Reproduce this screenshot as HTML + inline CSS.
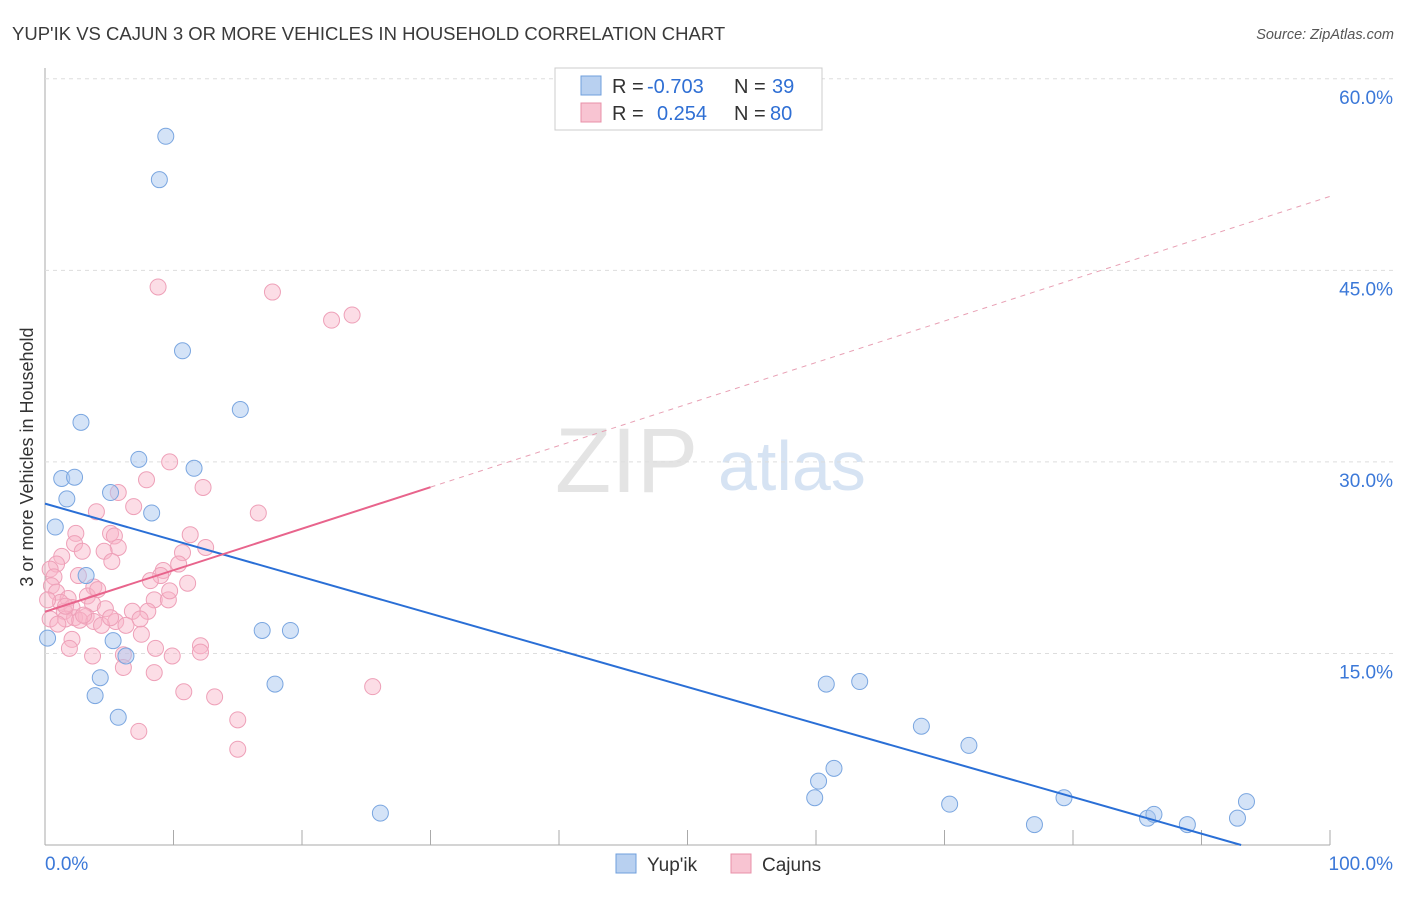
<!DOCTYPE html>
<html><head><meta charset="utf-8"><style>
body{margin:0;background:#fff;font-family:"Liberation Sans",sans-serif;}
svg text{font-family:"Liberation Sans",sans-serif;}
</style></head><body>
<svg id="c" width="1406" height="892">
<text x="12" y="40" font-size="18.5" fill="#3a3a3a">YUP'IK VS CAJUN 3 OR MORE VEHICLES IN HOUSEHOLD CORRELATION CHART</text>
<text x="1394" y="39" font-size="14.5" fill="#555" font-style="italic" text-anchor="end">Source: ZipAtlas.com</text>
<text x="33" y="457" font-size="18" fill="#333" text-anchor="middle" transform="rotate(-90 33 457)">3 or more Vehicles in Household</text>
<text x="555" y="492" font-size="92" fill="#e4e4e4" font-family="Liberation Serif">ZIP</text>
<text x="718" y="490" font-size="70" fill="#d6e3f3">atlas</text>
<g id="grid"></g><g id="marks"></g>
<g>
<rect x="555" y="68" width="267" height="62" fill="#fff" stroke="#ccc"/>
<rect x="581" y="76" width="20" height="19" fill="#b8d0f0" stroke="#6f9fdc"/>
<rect x="581" y="103" width="20" height="19" fill="#f8c4d2" stroke="#e890a8"/>
<text x="612" y="93" font-size="20" fill="#333">R =</text>
<text x="647" y="93" font-size="20" fill="#2f6fd4">-0.703</text>
<text x="734" y="93" font-size="20" fill="#333">N =</text>
<text x="772" y="93" font-size="20" fill="#2f6fd4">39</text>
<text x="612" y="120" font-size="20" fill="#333">R =</text>
<text x="657" y="120" font-size="20" fill="#2f6fd4">0.254</text>
<text x="734" y="120" font-size="20" fill="#333">N =</text>
<text x="770" y="120" font-size="20" fill="#2f6fd4">80</text>
</g>
<g>
<rect x="616" y="854" width="20" height="19" fill="#b8d0f0" stroke="#6f9fdc"/>
<text x="647" y="871" font-size="19" fill="#333">Yup'ik</text>
<rect x="731" y="854" width="20" height="19" fill="#f8c4d2" stroke="#e890a8"/>
<text x="762" y="871" font-size="19" fill="#333">Cajuns</text>
</g>
</svg>
<script>
const yTicks=[15,30,45,60];
const xTickLabels=["0.0%","100.0%"];
const blueX=[9.4,8.9,10.7,15.2,2.8,7.3,11.6,1.3,2.3,1.7,5.1,8.3,0.8,3.2,0.2,5.3,6.3,4.3,3.9,5.7,16.9,19.1,17.9,26.1,60.8,63.4,68.2,71.9,61.4,60.2,59.9,70.4,79.3,77.0,85.8,86.3,88.9,92.8,93.5];
const blueY=[55.5,52.1,38.7,34.1,33.1,30.2,29.5,28.7,28.8,27.1,27.6,26.0,24.9,21.1,16.2,16.0,14.8,13.1,11.7,10.0,16.8,16.8,12.6,2.5,12.6,12.8,9.3,7.8,6.0,5.0,3.7,3.2,3.7,1.6,2.1,2.4,1.6,2.1,3.4];
const pinkX=[8.8,17.7,22.3,23.9,9.7,7.9,12.3,5.7,16.6,4.0,6.9,5.1,5.4,2.4,11.3,12.5,5.7,2.3,1.3,4.6,2.9,5.2,10.7,10.4,9.2,0.9,0.4,0.7,2.6,9.0,8.2,11.1,0.5,3.8,0.9,3.3,1.8,1.2,8.5,9.6,3.7,2.1,4.7,1.5,6.8,8.0,2.3,3.2,1.6,2.7,3.8,5.5,4.4,7.4,6.3,7.5,12.1,8.6,2.1,1.9,12.1,3.7,6.1,9.9,6.1,8.5,10.8,13.2,25.5,15.0,7.3,15.0,0.4,1.0,3.0,5.1,0.2,9.7,1.6,4.1];
const pinkY=[43.7,43.3,41.1,41.5,30.0,28.6,28.0,27.6,26.0,26.1,26.5,24.4,24.2,24.4,24.3,23.3,23.3,23.6,22.6,23.0,23.0,22.2,22.9,22.0,21.5,22.0,21.6,21.0,21.1,21.1,20.7,20.5,20.3,20.2,19.8,19.5,19.3,19.0,19.2,19.2,18.9,18.6,18.5,18.3,18.3,18.3,17.8,17.9,17.7,17.6,17.5,17.5,17.2,17.7,17.2,16.5,15.6,15.4,16.1,15.4,15.1,14.8,14.9,14.8,13.9,13.5,12.0,11.6,12.4,9.8,8.9,7.5,17.7,17.3,18.0,17.8,19.2,19.9,18.7,20.0];
const X=v=>45+v*12.85, Y=v=>845-v*12.77;
const ns="http://www.w3.org/2000/svg";
const svg=document.getElementById('c'),grid=document.getElementById('grid'),marks=document.getElementById('marks');
function mk(t,a,p){const e=document.createElementNS(ns,t);for(const k in a)e.setAttribute(k,a[k]);p.appendChild(e);return e;}
let yl=mk('line',{x1:45,y1:68,x2:45,y2:845,stroke:'#aaa'},grid);


let xl=mk('line',{x1:45,y1:845,x2:1330,y2:845,stroke:'#aaa'},grid);


yTicks.forEach(t=>{
 let g=mk('line',{x1:45,y1:Y(t),x2:1394,y2:Y(t),stroke:'#ddd','stroke-dasharray':'4 4'},grid);
 
 
 let tx=mk('text',{x:1393,y:Y(t)+25,'font-size':19,fill:'#3b78d8','text-anchor':'end'},grid);tx.textContent=t.toFixed(1)+'%';
 
 
});
for(let i=1;i<=10;i++){let t=mk('line',{x1:45+i*128.5,y1:830,x2:45+i*128.5,y2:845,stroke:'#aaa'},grid);
 
 }
[[45,'start'],[1393,'end']].forEach((p,i)=>{let t=mk('text',{x:p[0],y:870,'font-size':19,fill:'#3b78d8','text-anchor':p[1]},grid);t.textContent=xTickLabels[i];
 
 });
function fit(xs,ys){const n=xs.length;let mx=0,my=0;xs.forEach((x,i)=>{mx+=x;my+=ys[i]});mx/=n;my/=n;let sxy=0,sxx=0;xs.forEach((x,i)=>{sxy+=(x-mx)*(ys[i]-my);sxx+=(x-mx)**2});const b=sxy/sxx;return [my-b*mx,b];}
pinkX.forEach((x,i)=>{let c=mk('circle',{cx:X(x),cy:Y(pinkY[i]),r:8,fill:'rgba(248,180,200,0.45)',stroke:'#eea0b8','stroke-width':1},marks);
 
 });
blueX.forEach((x,i)=>{let c=mk('circle',{cx:X(x),cy:Y(blueY[i]),r:8,fill:'rgba(170,200,240,0.5)',stroke:'#7aa6e0','stroke-width':1},marks);
 
 });
let [ba,bb]=fit(blueX,blueY);
let xe=Math.min(100,-ba/bb);
let bl=mk('line',{x1:X(0),y1:Y(ba),x2:X(xe),y2:Y(ba+bb*xe),stroke:'#2a6fd6','stroke-width':2},marks);


let [pa,pb]=fit(pinkX,pinkY);
let pl=mk('line',{x1:X(0),y1:Y(pa),x2:X(30),y2:Y(pa+pb*30),stroke:'#e8648c','stroke-width':2},marks);


let pd=mk('line',{x1:X(30),y1:Y(pa+pb*30),x2:X(100),y2:Y(pa+pb*100),stroke:'#e8a0b4','stroke-width':1,'stroke-dasharray':'5 5'},marks);


</script>
</body></html>
